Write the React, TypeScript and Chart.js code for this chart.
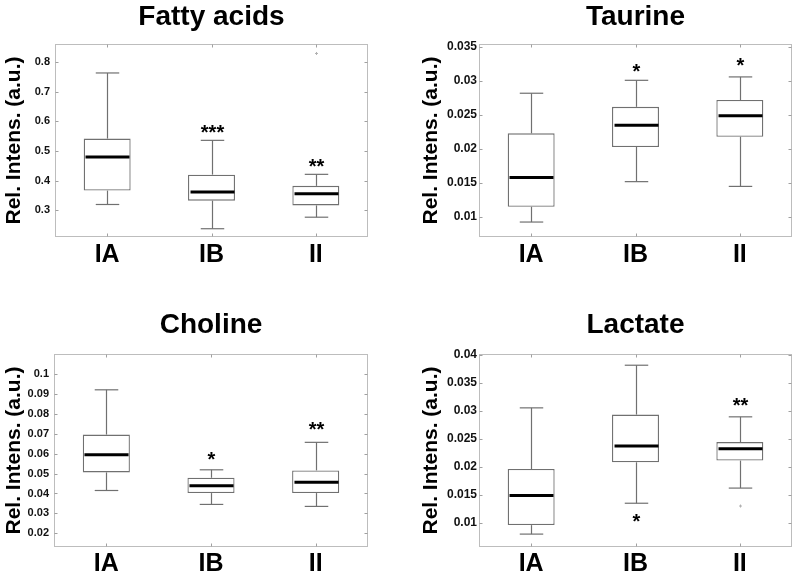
import React, { useEffect, useRef } from 'react';
import { Chart, registerables } from 'chart.js';

Chart.register(...registerables);

const FONT = '"Liberation Sans", Arial, Helvetica, sans-serif';

const categories = ['IA', 'IB', 'II'];
const yAxisTitle = 'Rel. Intens. (a.u.)';

// Fatty acids
const faMin = [0.319, 0.237, 0.276];
const faQ1 = [0.366, 0.332, 0.316];
const faMed = [0.48, 0.361, 0.355];
const faQ3 = [0.542, 0.42, 0.382];
const faMax = [0.764, 0.536, 0.421];
const faOutliers = [null, null, 0.83];
const faStars = ['', '***', '**'];
const faStarY = [null, 0.577, 0.462];
const faTicks = [0.3, 0.4, 0.5, 0.6, 0.7, 0.8];
const faRange = [0.209, 0.862];

// Taurine
const tauMin = [0.00926, 0.0152, 0.0145];
const tauQ1 = [0.0115, 0.0203, 0.0218];
const tauMed = [0.0158, 0.0235, 0.0249];
const tauQ3 = [0.0223, 0.0262, 0.0272];
const tauMax = [0.0282, 0.0301, 0.0306];
const tauOutliers = [null, null, null];
const tauStars = ['', '*', '*'];
const tauStarY = [null, 0.0321, 0.033];
const tauTicks = [0.01, 0.015, 0.02, 0.025, 0.03, 0.035];
const tauRange = [0.00706, 0.03544];

// Choline
const choMin = [0.0415, 0.0345, 0.0335];
const choQ1 = [0.0506, 0.0402, 0.0402];
const choMed = [0.0595, 0.0439, 0.0456];
const choQ3 = [0.0696, 0.0479, 0.0516];
const choMax = [0.0921, 0.0519, 0.0657];
const choOutliers = [null, null, null];
const choStars = ['', '*', '**'];
const choStarY = [null, 0.0593, 0.0744];
const choTicks = [0.02, 0.03, 0.04, 0.05, 0.06, 0.07, 0.08, 0.09, 0.1];
const choRange = [0.0131, 0.1101];

// Lactate
const lacMin = [0.008, 0.0135, 0.0162];
const lacQ1 = [0.0096, 0.0208, 0.0211];
const lacMed = [0.0149, 0.0237, 0.0232];
const lacQ3 = [0.0196, 0.0293, 0.0244];
const lacMax = [0.0305, 0.0381, 0.0289];
const lacOutliers = [null, null, 0.013];
const lacStars = ['', '*', '**'];
const lacStarY = [null, 0.0111, 0.0318];
const lacTicks = [0.01, 0.015, 0.02, 0.025, 0.03, 0.035, 0.04];
const lacRange = [0.0057, 0.0401];

type PanelData = {
  title: string;
  min: number[]; q1: number[]; med: number[]; q3: number[]; max: number[];
  outliers: (number | null)[];
  stars: string[]; starY: (number | null)[];
  ticks: number[]; range: number[];
};

const panels: PanelData[] = [
  { title: 'Fatty acids', min: faMin, q1: faQ1, med: faMed, q3: faQ3, max: faMax, outliers: faOutliers, stars: faStars, starY: faStarY, ticks: faTicks, range: faRange },
  { title: 'Taurine', min: tauMin, q1: tauQ1, med: tauMed, q3: tauQ3, max: tauMax, outliers: tauOutliers, stars: tauStars, starY: tauStarY, ticks: tauTicks, range: tauRange },
  { title: 'Choline', min: choMin, q1: choQ1, med: choMed, q3: choQ3, max: choMax, outliers: choOutliers, stars: choStars, starY: choStarY, ticks: choTicks, range: choRange },
  { title: 'Lactate', min: lacMin, q1: lacQ1, med: lacMed, q3: lacQ3, max: lacMax, outliers: lacOutliers, stars: lacStars, starY: lacStarY, ticks: lacTicks, range: lacRange },
];

const layouts = [
  { left: 0, top: 0, w: 400, h: 290, plotL: 55, plotR: 368, plotT: 44, plotB: 237, titleBase: 25, yTitlePad: 2, tickPad: 5, tickFont: 11, xPad: 3 },
  { left: 400, top: 0, w: 399, h: 290, plotL: 79, plotR: 392, plotT: 44, plotB: 237, titleBase: 25, yTitlePad: 19, tickPad: 2, tickFont: 12, xPad: 3 },
  { left: 0, top: 290, w: 400, h: 287, plotL: 54, plotR: 368, plotT: 64, plotB: 257, titleBase: 43, yTitlePad: 2, tickPad: 5, tickFont: 11, xPad: 2 },
  { left: 400, top: 290, w: 399, h: 287, plotL: 79, plotR: 392, plotT: 64, plotB: 257, titleBase: 43, yTitlePad: 19, tickPad: 2, tickFont: 12, xPad: 2 },
];

const BOX_W = 0.45;
const CAP_W = 0.225;
const BOX_COLOR = '#707070';
const FRAME_COLOR = '#bdbdbd';

function BoxPanel({ panel, lay }: { panel: PanelData; lay: typeof layouts[number] }) {
  const ref = useRef<HTMLCanvasElement>(null);

  useEffect(() => {
    const canvas = ref.current;
    if (!canvas) return;
    const p = panel;

    const extras = {
      id: 'boxExtras',
      afterDatasetsDraw(chart: any) {
        const { ctx, scales } = chart;
        const x = scales.x;
        const y = scales.y;
        const unit = x.getPixelForValue(1) - x.getPixelForValue(0);
        const seg = (x1: number, y1: number, x2: number, y2: number) => {
          ctx.beginPath();
          ctx.moveTo(x1, y1);
          ctx.lineTo(x2, y2);
          ctx.stroke();
        };
        ctx.save();
        categories.forEach((_, i) => {
          const cx = Math.round(x.getPixelForValue(i)) + 0.5;
          const half = (unit * BOX_W) / 2;
          const cap = (unit * CAP_W) / 2;
          ctx.strokeStyle = BOX_COLOR;
          ctx.lineWidth = 1.2;
          const yMax = y.getPixelForValue(p.max[i]);
          const yQ3 = y.getPixelForValue(p.q3[i]);
          const yQ1 = y.getPixelForValue(p.q1[i]);
          const yMin = y.getPixelForValue(p.min[i]);
          seg(cx, yQ3, cx, yMax);
          seg(cx - cap, yMax, cx + cap, yMax);
          seg(cx, yQ1, cx, yMin);
          seg(cx - cap, yMin, cx + cap, yMin);
          // median
          ctx.strokeStyle = '#000';
          ctx.lineWidth = 3;
          const yMed = y.getPixelForValue(p.med[i]);
          seg(cx - half + 1.5, yMed, cx + half - 1.5, yMed);
          // outlier
          const o = p.outliers[i];
          if (o !== null) {
            const oy = y.getPixelForValue(o);
            ctx.strokeStyle = '#b0b0b0';
            ctx.lineWidth = 1;
            seg(cx - 1.5, oy, cx + 1.5, oy);
            seg(cx, oy - 1.5, cx, oy + 1.5);
          }
          // stars
          const sy = p.starY[i];
          if (p.stars[i] && sy !== null) {
            ctx.fillStyle = '#000';
            ctx.font = `bold 20px ${FONT}`;
            ctx.textAlign = 'center';
            ctx.textBaseline = 'alphabetic';
            ctx.fillText(p.stars[i], cx, y.getPixelForValue(sy) + 11);
          }
        });
        ctx.restore();
      },
      afterDraw(chart: any) {
        const { ctx, chartArea: ca, scales } = chart;
        const x = scales.x;
        const y = scales.y;
        ctx.save();
        const L = Math.round(ca.left) + 0.5;
        const R = Math.round(ca.right) - 0.5;
        const T = Math.round(ca.top) + 0.5;
        const B = Math.round(ca.bottom) - 0.5;
        ctx.strokeStyle = FRAME_COLOR;
        ctx.lineWidth = 1;
        ctx.strokeRect(L, T, R - L, B - T);
        ctx.strokeStyle = '#a0a0a0';
        const tl = 3;
        y.ticks.forEach((t: any) => {
          const py = Math.round(y.getPixelForValue(t.value)) + 0.5;
          ctx.beginPath();
          ctx.moveTo(L, py); ctx.lineTo(L + tl, py);
          ctx.moveTo(R, py); ctx.lineTo(R - tl, py);
          ctx.stroke();
        });
        categories.forEach((_, i) => {
          const px = Math.round(x.getPixelForValue(i)) + 0.5;
          ctx.beginPath();
          ctx.moveTo(px, B); ctx.lineTo(px, B - tl);
          ctx.moveTo(px, T); ctx.lineTo(px, T + tl);
          ctx.stroke();
        });
        // title
        ctx.fillStyle = '#000';
        ctx.font = `bold 28px ${FONT}`;
        ctx.textAlign = 'center';
        ctx.textBaseline = 'alphabetic';
        ctx.fillText(p.title, (ca.left + ca.right) / 2, lay.titleBase);
        ctx.restore();
      },
    };

    const chart = new Chart(canvas, {
      type: 'bar',
      data: {
        labels: categories,
        datasets: [
          {
            data: categories.map((_, i) => [p.q1[i], p.q3[i]]) as any,
            backgroundColor: '#ffffff',
            borderColor: BOX_COLOR,
            borderWidth: 1.3,
            borderSkipped: false,
            categoryPercentage: 1,
            barPercentage: BOX_W,
          },
        ],
      },
      options: {
        responsive: false,
        animation: false,
        events: [],
        layout: {
          autoPadding: false,
          padding: { left: 0, right: lay.w - lay.plotR, top: lay.plotT, bottom: 0 },
        },
        plugins: {
          legend: { display: false },
          tooltip: { enabled: false },
          title: { display: false },
        },
        scales: {
          x: {
            type: 'category',
            offset: true,
            grid: { display: false, drawTicks: false },
            border: { display: false },
            ticks: {
              color: '#000',
              padding: lay.xPad,
              font: { family: FONT, size: 25, weight: 'bold' },
            },
            afterFit: (s: any) => { s.height = lay.h - lay.plotB; },
          },
          y: {
            type: 'linear',
            min: p.range[0],
            max: p.range[1],
            grid: { display: false, drawTicks: false },
            border: { display: false },
            afterBuildTicks: (s: any) => { s.ticks = p.ticks.map((v) => ({ value: v })); },
            ticks: {
              color: '#111',
              padding: lay.tickPad,
              font: { family: FONT, size: lay.tickFont, weight: 'bold' },
              callback: (v: any) => String(Number(Number(v).toFixed(4))),
            },
            title: {
              display: true,
              text: yAxisTitle,
              color: '#000',
              font: { family: FONT, size: 21, weight: 'bold' },
              padding: { top: lay.yTitlePad, bottom: 0 },
            },
            afterFit: (s: any) => { s.width = lay.plotL; },
          },
        },
      },
      plugins: [extras],
    });
    return () => chart.destroy();
  }, [panel, lay]);

  return (
    <div style={{ position: 'absolute', left: lay.left, top: lay.top, width: lay.w, height: lay.h }}>
      <canvas ref={ref} width={lay.w} height={lay.h} style={{ display: 'block' }} />
    </div>
  );
}

export default function App() {
  return (
    <div style={{ position: 'fixed', left: 0, top: 0, width: 799, height: 577, background: '#fff', overflow: 'hidden' }}>
      {panels.map((p, i) => (
        <BoxPanel key={p.title} panel={p} lay={layouts[i]} />
      ))}
    </div>
  );
}
